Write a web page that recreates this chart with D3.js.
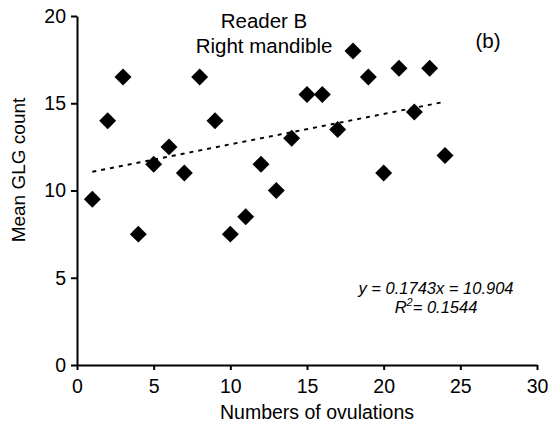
<!DOCTYPE html>
<html>
<head>
<meta charset="utf-8">
<script src="https://cdn.jsdelivr.net/npm/d3@7"></script>
<style>
  html, body { margin: 0; padding: 0; background: #fff; }
  svg { display: block; font-family: "Liberation Sans", Arial, Helvetica, sans-serif; }
</style>
</head>
<body>
<svg id="chart" width="560" height="430"></svg>
<script>
// Data
const ovulations = [1,2,3,4,5,6,7,8,9,10,11,12,13,14,15,16,17,18,19,20,21,22,23,24];
const glgCount   = [9.5,14,16.5,7.5,11.5,12.5,11,16.5,14,7.5,8.5,11.5,10,13,15.5,15.5,13.5,18,16.5,11,17,14.5,17,12];
const xTicks = [0,5,10,15,20,25,30];
const yTicks = [0,5,10,15,20];
const trendSlope = 0.1743;
const trendIntercept = 10.904;
const trendRange = [1, 24];
const headerLines = ["Reader B", "Right mandible"];
const panelLabel = "(b)";
const xTitle = "Numbers of ovulations";
const yTitle = "Mean GLG count";

const svg = d3.select("#chart");
const x = d3.scaleLinear().domain([0, 30]).range([77, 537]);
const y = d3.scaleLinear().domain([0, 20]).range([365, 16]);

// Axes
const xAxis = d3.axisBottom(x).tickValues(xTicks).tickSize(5).tickPadding(9).tickSizeOuter(0);
const yAxis = d3.axisLeft(y).tickValues(yTicks).tickSize(6).tickPadding(5).tickSizeOuter(0);

const gx = svg.append("g").attr("transform", `translate(0,${y(0)})`).call(xAxis);
const gy = svg.append("g").attr("transform", `translate(${x(0)},0)`).call(yAxis);
[gx, gy].forEach(g => {
  g.select(".domain").attr("stroke", "#000").attr("stroke-width", 2);
  g.selectAll(".tick line").attr("stroke", "#000").attr("stroke-width", 2);
  g.selectAll(".tick text").attr("fill", "#000").style("font-size", "19.5px")
    .style("font-family", '"Liberation Sans", Arial, sans-serif');
});

// Trend line
const lineGen = d3.line().x(d => x(d)).y(d => y(trendSlope * d + trendIntercept));
svg.append("path")
  .attr("d", lineGen(trendRange))
  .attr("fill", "none")
  .attr("stroke", "#000")
  .attr("stroke-width", 2)
  .attr("stroke-dasharray", "4,5");

// Points (diamonds = squares rotated 45deg)
const sym = d3.symbol().type(d3.symbolSquare).size(144);
svg.append("g").selectAll("path")
  .data(ovulations.map((v, i) => [v, glgCount[i]]))
  .join("path")
  .attr("d", sym)
  .attr("transform", d => `translate(${x(d[0])},${y(d[1])}) rotate(45)`)
  .attr("fill", "#000");

// Header text
svg.append("text").attr("x", 264).attr("y", 28).attr("text-anchor", "middle")
  .style("font-size", "20.5px").text(headerLines[0]);
svg.append("text").attr("x", 264).attr("y", 53).attr("text-anchor", "middle")
  .style("font-size", "20.5px").text(headerLines[1]);
svg.append("text").attr("x", 488).attr("y", 48).attr("text-anchor", "middle")
  .style("font-size", "20.5px").text(panelLabel);

// Equation
svg.append("text").attr("x", 436).attr("y", 294).attr("text-anchor", "middle")
  .style("font-size", "16.5px").style("font-style", "italic")
  .text(`y = ${trendSlope}x = ${trendIntercept}`);
const r2 = svg.append("text").attr("x", 436).attr("y", 313).attr("text-anchor", "middle")
  .style("font-size", "16.5px").style("font-style", "italic");
r2.append("tspan").text("R");
r2.append("tspan").attr("dy", -7).style("font-size", "11px").text("2");
r2.append("tspan").attr("dy", 7).text("= 0.1544");

// Axis titles
svg.append("text").attr("x", 317).attr("y", 419).attr("text-anchor", "middle")
  .style("font-size", "19.5px").text(xTitle);
svg.append("text").attr("transform", "translate(25,170) rotate(-90)").attr("text-anchor", "middle")
  .style("font-size", "19px").text(yTitle);
</script>
</body>
</html>
